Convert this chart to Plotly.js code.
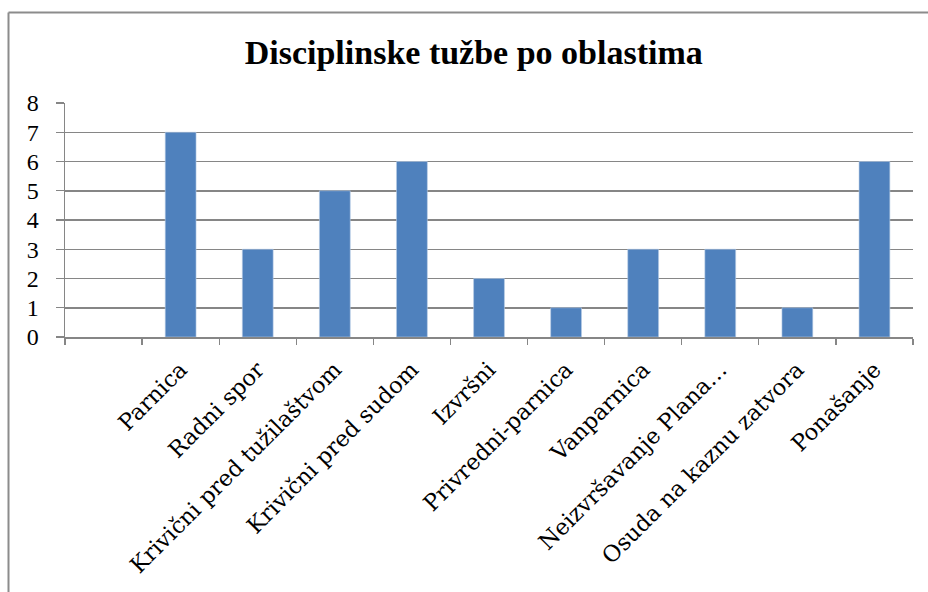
<!DOCTYPE html>
<html>
<head>
<meta charset="utf-8">
<script src="https://cdn.plot.ly/plotly-3.0.1.min.js"></script>
<style>
html,body{margin:0;padding:0;background:#fff;}
#chart{width:928px;height:592px;}
</style>
</head>
<body>
<div id="chart"></div>
<script>
const categories = [" ", "Parnica", "Radni spor", "Krivični pred tužilaštvom", "Krivični pred sudom", "Izvršni", "Privredni-parnica", "Vanparnica", "Neizvršavanje Plana…", "Osuda na kaznu zatvora", "Ponašanje"];
const values = [null, 7, 3, 5, 6, 2, 1, 3, 3, 1, 6];
const yTicks = [0, 1, 2, 3, 4, 5, 6, 7, 8];
const titleText = "Disciplinske tužbe po oblastima";

const serif = "Liberation Serif, DejaVu Serif, serif";
const wideSerif = "DejaVu Serif, Liberation Serif, serif";
const L = 65, R = 15, T = 103, B = 255;
const pw = 928 - L - R, ph = 592 - T - B;
const bx = (8.5 - L) / pw, by = (592 - B - 12.5) / ph;

const trace = {
  type: "bar",
  x: categories,
  y: values,
  marker: {color: "#4F81BD", line: {color: "#B9CDE5", width: 0.6}},
  hoverinfo: "skip"
};

const layout = {
  width: 928, height: 592,
  margin: {l: L, r: R, t: T, b: B, pad: 0},
  paper_bgcolor: "#ffffff",
  plot_bgcolor: "#ffffff",
  showlegend: false,
  bargap: 0.6,
  title: {text: "<b>" + titleText + "</b>", font: {family: serif, size: 34, color: "#000"}, xref: "paper", x: 0.482, xanchor: "center", y: 0.912, yanchor: "middle"},
  xaxis: {
    type: "category",
    categoryorder: "array",
    categoryarray: categories,
    tickangle: -45,
    tickson: "boundaries",
    ticks: "outside",
    ticklen: 6,
    tickcolor: "#868686",
    tickwidth: 1.3,
    showline: true,
    linecolor: "#868686",
    linewidth: 1.5,
    showgrid: false,
    ticklabelstandoff: 9,
    tickfont: {family: wideSerif, size: 22.5, color: "#000"},
    fixedrange: true
  },
  yaxis: {
    range: [0, 8],
    tickvals: yTicks,
    ticktext: yTicks.map(String),
    ticks: "outside",
    ticklen: 8,
    tickcolor: "#868686",
    tickwidth: 1.3,
    showline: true,
    linecolor: "#868686",
    linewidth: 1.5,
    showgrid: true,
    gridcolor: "#868686",
    gridwidth: 1.5,
    zeroline: false,
    ticklabelstandoff: 12,
    tickfont: {family: serif, size: 24, color: "#000"},
    fixedrange: true
  },
  shapes: [
    {type: "line", xref: "paper", yref: "paper", x0: bx, x1: bx, y0: -1.5, y1: by, line: {color: "#8c8c8c", width: 2}},
    {type: "line", xref: "paper", yref: "paper", x0: bx, x1: 1.2, y0: by, y1: by, line: {color: "#8c8c8c", width: 2}}
  ]
};

Plotly.newPlot("chart", [trace], layout, {staticPlot: true, displayModeBar: false});
</script>
</body>
</html>
